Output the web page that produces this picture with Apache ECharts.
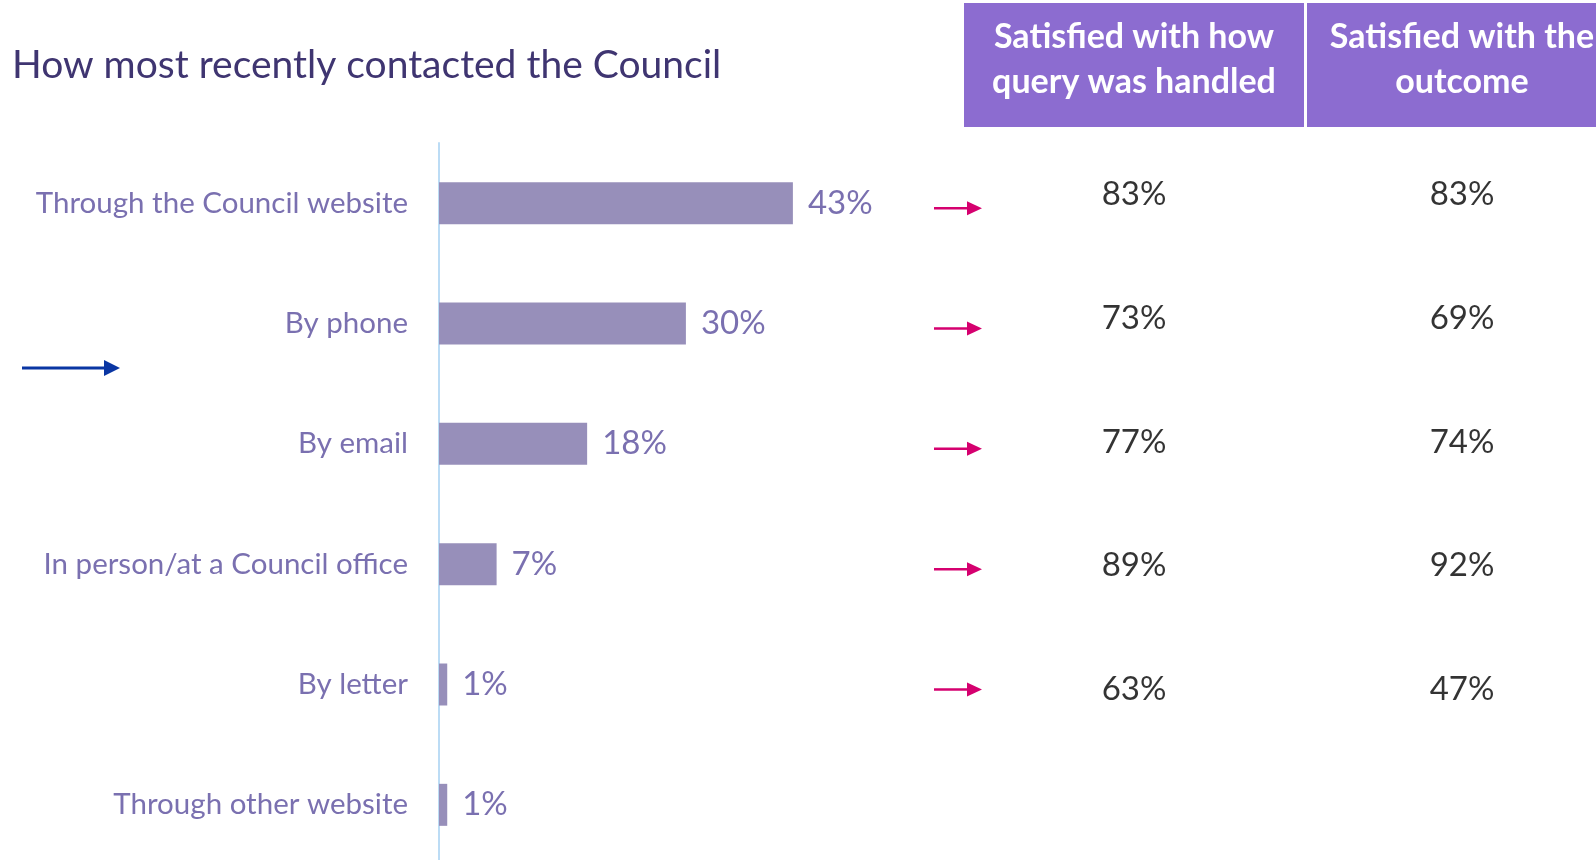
<!DOCTYPE html>
<html>
<head>
<meta charset="utf-8">
<script src="https://cdn.jsdelivr.net/npm/echarts@6.0.0/dist/echarts.min.js"></script>
<style>
html, body { margin: 0; padding: 0; background: #fff; }
#chart { width: 1596px; height: 860px; }
</style>
</head>
<body>
<div id="chart"></div>
<script>
// data
const categories = ['Through the Council website', 'By phone', 'By email',
    'In person/at a Council office', 'By letter', 'Through other website'];
const shares = [43, 30, 18, 7, 1, 1];
const handled = [83, 73, 77, 89, 63, null];
const outcome = [83, 69, 74, 92, 47, null];
const columns = ['handled', 'outcome'];
const headers = ['Satisfied with how\nquery was handled', 'Satisfied with the\noutcome'];

const font = 'Lato';
const barColor = '#978fba';
const labelColor = '#7a70b0';
const pink = '#d5006f';

let myChart = echarts.init(document.getElementById('chart'));

function tableSeries(name, values, col) {
    return {
        name: name,
        type: 'scatter',
        xAxisIndex: 1,
        yAxisIndex: 1,
        symbolSize: 1,
        itemStyle: { color: 'rgba(0,0,0,0)' },
        label: {
            show: true,
            position: 'inside',
            fontFamily: font,
            fontSize: 33,
            color: '#000',
            formatter: p => p.value[2] + '%'
        },
        data: values.map((v, i) => v == null ? null : [col, categories[i], v]).filter(d => d)
    };
}

myChart.setOption({
    backgroundColor: '#fff',
    animation: false,
    title: {
        text: 'How most recently contacted the Council',
        left: 7,
        top: 41,
        textStyle: { fontFamily: font, fontSize: 39, fontWeight: 'normal', color: '#3f3571' }
    },
    grid: [
        { left: 439, top: 143, width: 823, height: 722, outerBoundsMode: 'none' },
        { left: 970, top: 133, width: 656, height: 742, outerBoundsMode: 'none' }
    ],
    xAxis: [
        { type: 'value', min: 0, max: 100, show: false },
        { type: 'category', gridIndex: 1, data: columns, show: false }
    ],
    yAxis: [
        {
            type: 'category',
            data: categories,
            inverse: true,
            axisLine: { show: true, lineStyle: { color: '#bcdcf5', width: 2 } },
            axisTick: { show: false },
            splitLine: { show: false },
            axisLabel: { margin: 31, fontFamily: font, fontSize: 29.5, color: labelColor }
        },
        { type: 'category', gridIndex: 1, data: categories, inverse: true, show: false }
    ],
    graphic: [
        { type: 'rect', shape: { x: 964, y: 3, width: 340, height: 124 }, style: { fill: '#8c6cd0' } },
        { type: 'rect', shape: { x: 1307, y: 3, width: 300, height: 124 }, style: { fill: '#8c6cd0' } },
        {
            type: 'text', x: 1134, y: 60,
            style: { text: headers[0], fill: '#fff', font: 'bold 34px Lato', align: 'center', verticalAlign: 'middle', lineHeight: 45 }
        },
        {
            type: 'text', x: 1462, y: 60,
            style: { text: headers[1], fill: '#fff', font: 'bold 34px Lato', align: 'center', verticalAlign: 'middle', lineHeight: 45 }
        },
        // blue pointer on the left
        { type: 'line', shape: { x1: 22, y1: 368, x2: 106, y2: 368 }, style: { stroke: '#0a36a3', lineWidth: 3 } },
        { type: 'polygon', shape: { points: [[104, 360], [120, 368], [104, 376]] }, style: { fill: '#0a36a3' } }
    ],
    series: [
        {
            name: 'Share',
            type: 'bar',
            barWidth: 42,
            itemStyle: { color: barColor },
            label: {
                show: true,
                position: 'right',
                distance: 15,
                fontFamily: font,
                fontSize: 33,
                color: labelColor,
                formatter: '{c}%'
            },
            data: shares
        },
        {
            name: 'Arrows',
            type: 'custom',
            renderItem: function (params, api) {
                const y = api.coord([0, api.value(1)])[1] + 5;
                return {
                    type: 'group',
                    children: [
                        { type: 'line', shape: { x1: 934, y1: y, x2: 970, y2: y }, style: { stroke: pink, lineWidth: 2.5 } },
                        { type: 'polygon', shape: { points: [[967, y - 7], [982, y], [967, y + 7]] }, style: { fill: pink } }
                    ]
                };
            },
            data: handled.map((v, i) => v == null ? null : [0, i]).filter(d => d)
        },
        tableSeries('Handled', handled, columns[0]),
        tableSeries('Outcome', outcome, columns[1])
    ]
});

window.addEventListener('resize', function () {
    myChart.resize();
});
</script>
</body>
</html>
